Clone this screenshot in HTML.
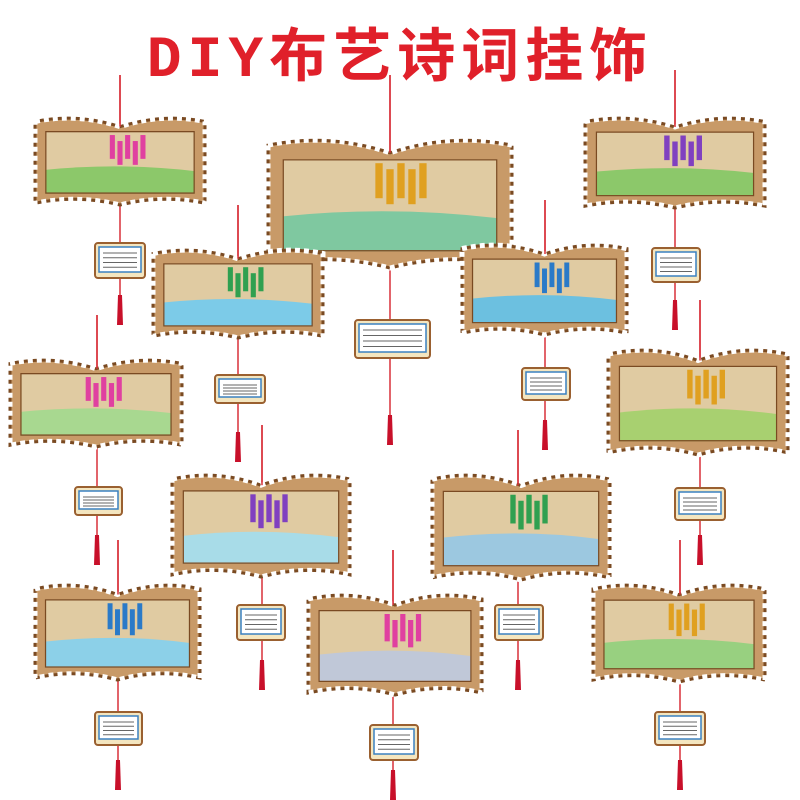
<!DOCTYPE html>
<html><head><meta charset="utf-8"><style>
html,body{margin:0;padding:0;background:#fff;width:800px;height:800px;overflow:hidden}
svg{display:block}
.t{font-family:"Liberation Mono","Noto Sans CJK SC",monospace;font-weight:bold;fill:#e0202a}
</style></head><body>
<svg id="s" width="800" height="800" viewBox="0 0 800 800" xmlns="http://www.w3.org/2000/svg">
<text x="400" y="76" text-anchor="middle" class="t" font-size="58" letter-spacing="6">DIY布艺诗词挂饰</text>
</svg>
<script>
var S=document.getElementById('s'),NS='http://www.w3.org/2000/svg';
function el(t,a,p){var e=document.createElementNS(NS,t);for(var k in a)e.setAttribute(k,a[k]);(p||S).appendChild(e);return e;}
var O=[
[35,118,205,205,120,75,95,243,145,278,325,'#8cc86a'],
[268,140,512,268,390,75,355,320,430,358,445,'#7fc8a0'],
[585,118,765,208,675,70,652,248,700,282,330,'#8cc86a'],
[153,250,323,338,238,205,215,375,265,403,462,'#7ccbe8'],
[462,245,627,335,545,200,522,368,570,400,450,'#6cc0e0'],
[10,360,182,447,97,315,75,487,122,515,565,'#a8d890'],
[608,350,788,455,700,300,675,488,725,520,565,'#a8d070'],
[172,475,350,577,262,425,237,605,285,640,690,'#a8dce8'],
[432,475,610,580,518,430,495,605,543,640,690,'#9cc8e0'],
[35,585,200,680,118,540,95,712,142,745,790,'#8cd0e8'],
[308,595,482,695,393,550,370,725,418,760,800,'#c0c8d8'],
[593,585,765,682,680,540,655,712,705,745,790,'#98d080']];
var i=0;
O.forEach(function(o){
 var x1=o[0],y1=o[1],x2=o[2],y2=o[3],sx=o[4],w=x2-x1,h=y2-y1,m=(x1+x2)/2;
 el('line',{x1:sx,y1:o[5],x2:sx,y2:o[10]-12,stroke:'#d8303a','stroke-width':1.5});
 el('path',{d:'M'+(sx-2)+','+(o[10]-30)+' L'+(sx+2)+','+(o[10]-30)+' L'+(sx+3)+','+o[10]+' L'+(sx-3)+','+o[10]+'Z',fill:'#c8102a'});
 var d='M'+x1+','+(y1+h*.04)+' Q'+(x1+w*.25)+','+(y1-h*.06)+' '+m+','+(y1+h*.1)+' Q'+(x2-w*.25)+','+(y1-h*.06)+' '+x2+','+(y1+h*.04)+
  ' L'+x2+','+(y2-h*.02)+' Q'+(x2-w*.25)+','+(y2-h*.12)+' '+m+','+(y2-h*.0)+' Q'+(x1+w*.25)+','+(y2-h*.12)+' '+x1+','+(y2-h*.02)+'Z';
 el('path',{d:d,fill:'#c89a68',stroke:'#7a4a22','stroke-width':3});
 el('path',{d:d,fill:'none',stroke:'#fff','stroke-width':5,'stroke-dasharray':'5 4',transform:'translate(0,0)'});
 var id='c'+(i++);var cp=el('clipPath',{id:id});
 var ix1=x1+w*.06,iy1=y1+h*.15,ix2=x2-w*.06,iy2=y2-h*.13;
 el('rect',{x:ix1,y:iy1,width:ix2-ix1,height:iy2-iy1},cp);
 var g=el('g',{'clip-path':'url(#'+id+')'});
 el('rect',{x:ix1,y:iy1,width:ix2-ix1,height:iy2-iy1,fill:'#e0cba2'},g);
 el('path',{d:'M'+ix1+','+(iy1+(iy2-iy1)*.62)+' Q'+m+','+(iy1+(iy2-iy1)*.5)+' '+ix2+','+(iy1+(iy2-iy1)*.64)+' L'+ix2+','+iy2+' L'+ix1+','+iy2+'Z',fill:o[11]},g);
 for(var k=0;k<5;k++){el('rect',{x:m-w*.06+k*w*.045,y:iy1+4+(k%2)*6,width:w*.03,height:(iy2-iy1)*.38,fill:['#2a7ac8','#e040a0','#e0a020','#8040c0','#30a050'][i%5]},g);}
 el('rect',{x:ix1,y:iy1,width:ix2-ix1,height:iy2-iy1,fill:'none',stroke:'#7a4a22','stroke-width':2.5},g);
 var cx1=o[6],cy1=o[7],cx2=o[8],cy2=o[9];
 el('rect',{x:cx1,y:cy1,width:cx2-cx1,height:cy2-cy1,rx:3,fill:'#f4e6c0',stroke:'#9a6030','stroke-width':2});
 el('rect',{x:cx1+4,y:cy1+4,width:cx2-cx1-8,height:cy2-cy1-10,fill:'#fff',stroke:'#3a80c0','stroke-width':1.5});
 for(var r=0;r<4;r++)el('line',{x1:cx1+8,y1:cy1+10+r*((cy2-cy1-16)/4),x2:cx2-8,y2:cy1+10+r*((cy2-cy1-16)/4),stroke:'#666','stroke-width':1});
 el('line',{x1:sx,y1:o[5],x2:sx,y2:y1+h*.1,stroke:'#d8303a','stroke-width':1.5});
});
</script>
</body></html>
